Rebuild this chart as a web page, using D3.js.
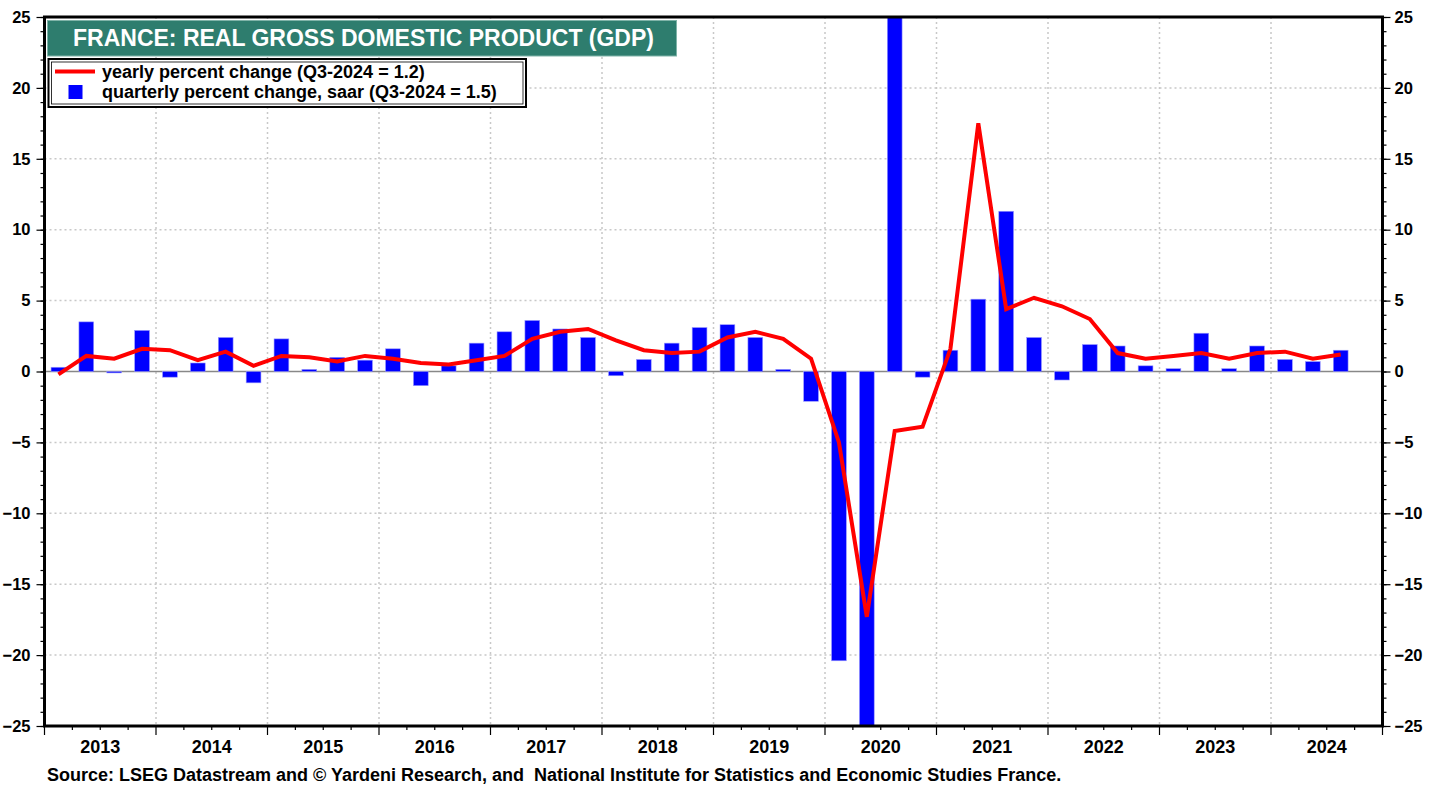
<!DOCTYPE html>
<html>
<head>
<meta charset="utf-8">
<script src="https://cdn.jsdelivr.net/npm/d3@7"></script>
<style>
body { margin: 0; background: #fff; }
text { font-family: "Liberation Sans", Arial, sans-serif; font-weight: bold; }
.narrow { font-family: "Liberation Sans Narrow", "Arial Narrow", "Liberation Sans", sans-serif; font-stretch: condensed; }
</style>
</head>
<body>
<svg width="1438" height="789"></svg>
<script>
// tick labels / categories
var years = [2013, 2014, 2015, 2016, 2017, 2018, 2019, 2020, 2021, 2022, 2023, 2024];
var quarterNames = ["Q1", "Q2", "Q3", "Q4"];
var yTicks = [-25, -20, -15, -10, -5, 0, 5, 10, 15, 20, 25];

// quarterly percent change, saar (Q1-2013 .. Q3-2024)
var quarterly = [
    0.3, 3.5, -0.1, 2.9,
    -0.4, 0.6, 2.4, -0.8,
    2.3, 0.15, 1.0, 0.8,
    1.6, -1.0, 0.4, 2.0,
    2.8, 3.6, 3.0, 2.4,
    -0.3, 0.85, 2.0, 3.1,
    3.3, 2.4, 0.15, -2.1,
    -20.4, -42.6, 95.0, -0.4,
    1.5, 5.1, 11.3, 2.4,
    -0.6, 1.9, 1.8, 0.4,
    0.2, 2.7, 0.2, 1.8,
    0.85, 0.7, 1.5
];

// yearly percent change
var yearly = [
    -0.2, 1.1, 0.9, 1.6,
    1.5, 0.8, 1.4, 0.4,
    1.1, 1.0, 0.7, 1.1,
    0.9, 0.6, 0.5, 0.8,
    1.1, 2.3, 2.8, 3.0,
    2.2, 1.5, 1.3, 1.4,
    2.4, 2.8, 2.3, 0.9,
    -5.0, -17.3, -4.2, -3.9,
    1.6, 17.5, 4.4, 5.2,
    4.6, 3.7, 1.3, 0.9,
    1.1, 1.3, 0.9, 1.3,
    1.4, 0.9, 1.2
];

var allQuarters = [];
years.forEach(function (y) {
    quarterNames.forEach(function (q) { allQuarters.push(y + q); });
});
var quarters = allQuarters.slice(0, quarterly.length);

var svg = d3.select("svg"),
    margin = {top: 17, right: 56, bottom: 63, left: 44.5},
    width = 1382.5 - margin.left,
    height = 726 - margin.top;

var xScale = d3.scaleBand().domain(allQuarters).range([0, width]).padding(0);
var yearScale = d3.scaleBand().domain(years).range([0, width]).padding(0);
var yScale = d3.scaleLinear().domain([-25, 25]).range([height, 0]);

var g = svg.append("g")
    .attr("transform", "translate(" + margin.left + "," + margin.top + ")");

g.append("clipPath").attr("id", "plotClip")
    .append("rect").attr("width", width).attr("height", height);

// grid lines
var grid = g.append("g").attr("class", "grid");
grid.selectAll(".hgrid")
    .data(yTicks.filter(function (d) { return d !== 0 && Math.abs(d) !== 25; }))
    .enter().append("line")
    .attr("x1", 0).attr("x2", width)
    .attr("y1", function (d) { return yScale(d); })
    .attr("y2", function (d) { return yScale(d); })
    .attr("stroke", "#c8c8c8").attr("stroke-width", 1.5).attr("stroke-dasharray", "2,3");
grid.selectAll(".vgrid")
    .data(years.slice(1))
    .enter().append("line")
    .attr("x1", function (d) { return yearScale(d); })
    .attr("x2", function (d) { return yearScale(d); })
    .attr("y1", 0).attr("y2", height)
    .attr("stroke", "#c8c8c8").attr("stroke-width", 1.5).attr("stroke-dasharray", "2,3");

// zero line
g.append("line")
    .attr("x1", 0).attr("x2", width)
    .attr("y1", yScale(0)).attr("y2", yScale(0))
    .attr("stroke", "#888").attr("stroke-width", 1.5);

var plot = g.append("g").attr("clip-path", "url(#plotClip)");

// bars
var barW = xScale.bandwidth() * 0.53;
plot.selectAll(".bar")
    .data(quarterly)
    .enter().append("rect")
    .attr("class", "bar")
    .attr("x", function (d, i) { return xScale(quarters[i]) + (xScale.bandwidth() - barW) / 2; })
    .attr("width", barW)
    .attr("y", function (d) { return yScale(Math.max(0, d)); })
    .attr("height", function (d) { return Math.abs(yScale(d) - yScale(0)); })
    .attr("fill", "#0000ff")
    .attr("stroke", "#9a9aff")
    .attr("stroke-width", 0.6);

// yearly line
var line = d3.line()
    .x(function (d, i) { return xScale(quarters[i]) + xScale.bandwidth() / 2; })
    .y(function (d) { return yScale(d); });
plot.append("path")
    .datum(yearly)
    .attr("d", line)
    .attr("fill", "none")
    .attr("stroke", "#ff0000")
    .attr("stroke-width", 4)
    .attr("stroke-linejoin", "miter");

// y axes (major + minor)
var minorTicks = d3.range(-25, 26, 1);
var leftMinor = g.append("g").call(d3.axisLeft(yScale).tickValues(minorTicks).tickSize(4).tickFormat(""));
var leftMajor = g.append("g").call(d3.axisLeft(yScale).tickValues(yTicks).tickSize(8).tickPadding(6));
var rightMinor = g.append("g").attr("transform", "translate(" + width + ",0)")
    .call(d3.axisRight(yScale).tickValues(minorTicks).tickSize(4).tickFormat(""));
var rightMajor = g.append("g").attr("transform", "translate(" + width + ",0)")
    .call(d3.axisRight(yScale).tickValues(yTicks).tickSize(8).tickPadding(4));

// x axis: quarter ticks + year ticks + year labels
var qBounds = allQuarters.map(function (q) { return xScale(q); }).concat([width]);
var xAxisG = g.append("g").attr("transform", "translate(0," + height + ")");
xAxisG.selectAll(".qtick")
    .data(qBounds)
    .enter().append("line")
    .attr("x1", function (d) { return d; }).attr("x2", function (d) { return d; })
    .attr("y1", 0)
    .attr("y2", function (d, i) { return i % 4 === 0 ? 9 : 4; })
    .attr("stroke", "#000").attr("stroke-width", 1.2);
xAxisG.selectAll(".ylabel")
    .data(years)
    .enter().append("text")
    .attr("class", "narrow")
    .attr("x", function (d) { return yearScale(d) + yearScale.bandwidth() / 2; })
    .attr("y", 27)
    .attr("text-anchor", "middle")
    .attr("font-size", 18)
    .text(function (d) { return d; });

[leftMinor, leftMajor, rightMinor, rightMajor].forEach(function (a) {
    a.select(".domain").remove();
    a.selectAll(".tick line").attr("stroke", "#000").attr("stroke-width", 1.2);
    a.selectAll("text").attr("font-size", 16.5).attr("fill", "#000")
        .style("font-family", "'Liberation Sans', Arial, sans-serif").style("font-weight", "bold");
});

// frame
g.append("rect")
    .attr("width", width).attr("height", height)
    .attr("fill", "none").attr("stroke", "#000").attr("stroke-width", 3);

// title box
var header = svg.append("g").attr("id", "header");
header.append("rect")
    .attr("x", 47.5).attr("y", 20.5).attr("width", 629).attr("height", 35.5)
    .attr("fill", "#2e7d6e").attr("stroke", "#7fb3a8").attr("stroke-width", 1);
header.append("text")
    .attr("x", 73).attr("y", 46)
    .attr("fill", "#fff").attr("font-size", 23)
    .text("FRANCE: REAL GROSS DOMESTIC PRODUCT (GDP)");

// legend
var legend = svg.append("g").attr("id", "legend");
legend.append("rect")
    .attr("x", 48.5).attr("y", 59).attr("width", 477.5).attr("height", 48)
    .attr("fill", "#fff").attr("stroke", "#000").attr("stroke-width", 2);
legend.append("rect")
    .attr("x", 51.5).attr("y", 62).attr("width", 471.5).attr("height", 42)
    .attr("fill", "none").attr("stroke", "#000").attr("stroke-width", 0.8);
legend.append("line")
    .attr("x1", 55).attr("x2", 95).attr("y1", 71.5).attr("y2", 71.5)
    .attr("stroke", "#ff0000").attr("stroke-width", 4);
legend.append("rect")
    .attr("x", 68.5).attr("y", 85).attr("width", 14).attr("height", 14)
    .attr("fill", "#0000ff");
legend.append("text").attr("x", 102).attr("y", 78).attr("font-size", 18)
    .text("yearly percent change (Q3-2024 = 1.2)");
legend.append("text").attr("x", 102).attr("y", 98).attr("font-size", 18)
    .text("quarterly percent change, saar (Q3-2024 = 1.5)");

// source
svg.append("text")
    .attr("class", "narrow")
    .attr("x", 47).attr("y", 781)
    .attr("font-size", 18)
    .attr("xml:space", "preserve")
    .style("white-space", "pre")
    .text("Source: LSEG Datastream and \u00A9 Yardeni Research, and  National Institute for Statistics and Economic Studies France.");
</script>
</body>
</html>
